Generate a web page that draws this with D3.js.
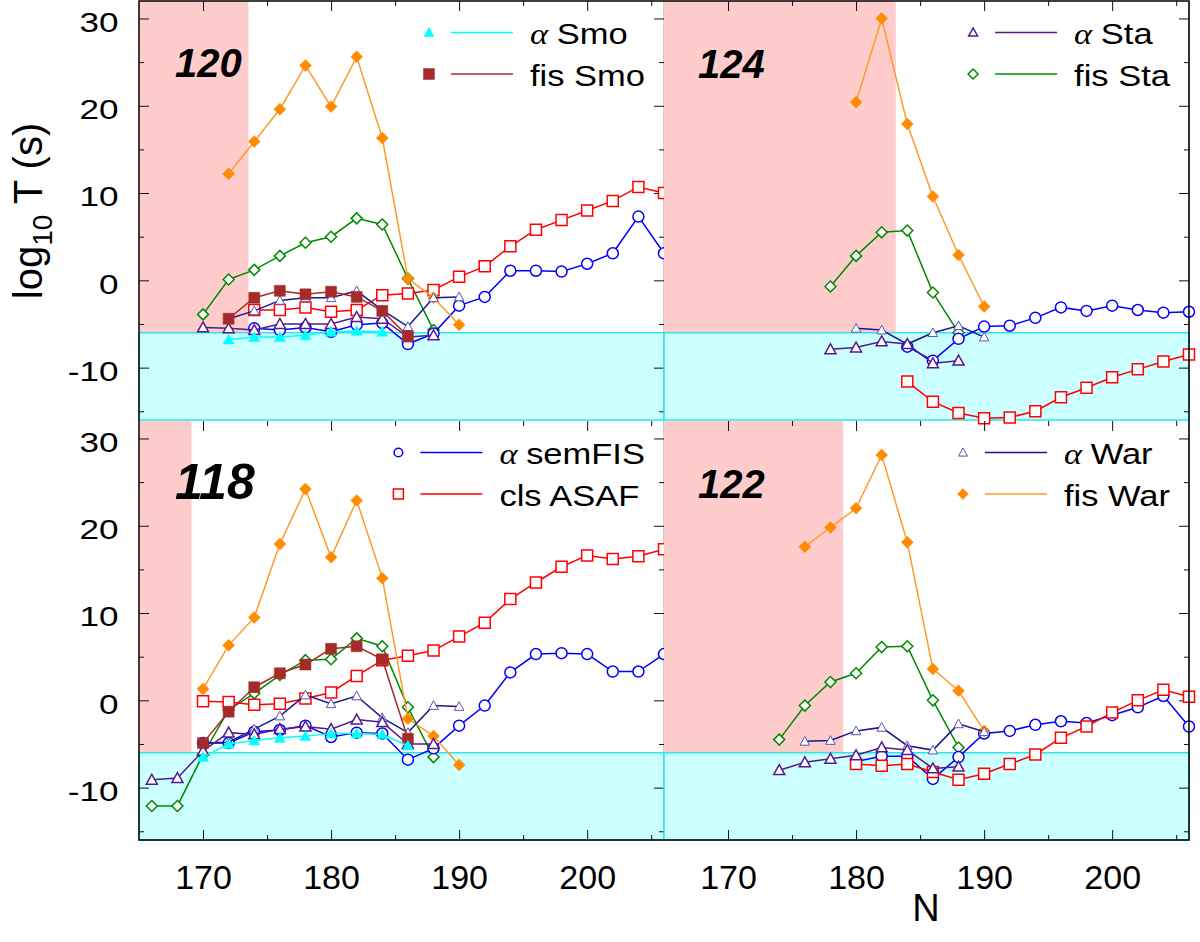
<!DOCTYPE html>
<html>
<head>
<meta charset="utf-8">
<script src="https://cdn.jsdelivr.net/npm/d3@7"></script>
<style>
body{margin:0;background:#fff}
svg{display:block;font-family:"Liberation Sans",Arial,sans-serif}
</style>
</head>
<body>
<script>
// ---- data: [N, log10 T] ----
// Z = 120 (top left)
var aSmo120 = [[172,-6.8],[174,-6.5],[176,-6.5],[178,-6.3],[180,-5.9],[182,-5.8],[184,-5.9]];
var fSmo120 = [[172,-4.4],[174,-2.0],[176,-1.2],[178,-1.6],[180,-1.3],[182,-1.9],[184,-3.5],[186,-6.4]];
var aSta120 = [[170,-5.4],[172,-5.5],[174,-5.7],[176,-5.0],[178,-5.0],[180,-5.0],[182,-4.2],[184,-4.4],[186,-6.5],[188,-6.3]];
var fSta120 = [[170,-3.9],[172,0.1],[174,1.2],[176,2.8],[178,4.3],[180,5.0],[182,7.1],[184,6.4],[186,0.2],[188,-5.7]];
var aSem120 = [[174,-5.5],[176,-5.7],[178,-5.4],[180,-5.9],[182,-5.1],[184,-4.9],[186,-7.3],[188,-6.1],[190,-2.9],[192,-1.9],[194,1.1],[196,1.1],[198,1.0],[200,1.9],[202,3.1],[204,7.3],[206,3.1]];
var cls120  = [[174,-3.4],[176,-3.4],[178,-3.1],[180,-3.6],[182,-3.4],[184,-1.7],[186,-1.5],[188,-1.1],[190,0.4],[192,1.6],[194,3.9],[196,5.8],[198,6.9],[200,8.0],[202,9.1],[204,10.7],[206,10.0]];
var aWar120 = [[172,-4.4],[174,-3.5],[176,-2.3],[178,-2.0],[180,-2.0],[182,-1.2],[184,-3.4],[186,-5.3],[188,-2.0],[190,-1.9]];
var fWar120 = [[172,12.2],[174,15.9],[176,19.6],[178,24.6],[180,19.9],[182,25.6],[184,16.3],[186,0.2],[188,-2.0],[190,-5.1]];

// Z = 124 (top right)
var aSta124 = [[178,-7.9],[180,-7.7],[182,-7.0],[184,-7.3],[186,-9.5],[188,-9.2]];
var fSta124 = [[178,-0.7],[180,2.8],[182,5.5],[184,5.7],[186,-1.4],[188,-6.0]];
var aSem124 = [[184,-7.6],[186,-9.2],[188,-6.7],[190,-5.3],[192,-5.2],[194,-4.3],[196,-3.1],[198,-3.5],[200,-2.9],[202,-3.4],[204,-3.7],[206,-3.6]];
var cls124  = [[184,-11.6],[186,-13.9],[188,-15.2],[190,-15.8],[192,-15.7],[194,-15.0],[196,-13.4],[198,-12.3],[200,-11.1],[202,-10.2],[204,-9.3],[206,-8.5]];
var aWar124 = [[180,-5.5],[182,-5.7],[184,-7.3],[186,-6.0],[188,-5.2],[190,-6.5]];
var fWar124 = [[180,20.4],[182,30.0],[184,17.9],[186,9.6],[188,2.9],[190,-3.0]];

// Z = 118 (bottom left)
var aSmo118 = [[170,-6.5],[172,-5.0],[174,-4.6],[176,-4.3],[178,-4.1],[180,-3.8],[182,-3.8],[184,-3.9],[186,-5.2]];
var fSmo118 = [[170,-4.9],[172,-1.3],[174,1.5],[176,3.1],[178,4.1],[180,5.9],[182,6.2],[184,4.7],[186,-4.4]];
var aSta118 = [[166,-9.1],[168,-8.9],[170,-5.8],[172,-3.7],[174,-3.9],[176,-3.3],[178,-3.0],[180,-3.3],[182,-2.2],[184,-2.5],[186,-5.0],[188,-5.0]];
var fSta118 = [[166,-12.1],[168,-12.1],[170,-6.2],[172,-1.1],[174,0.8],[176,2.9],[178,4.6],[180,4.7],[182,7.1],[184,6.2],[186,-0.8],[188,-6.5]];
var aSem118 = [[170,-4.9],[172,-4.9],[174,-3.6],[176,-3.4],[178,-2.9],[180,-4.2],[182,-3.7],[184,-3.8],[186,-6.8],[188,-5.5],[190,-2.9],[192,-0.6],[194,3.2],[196,5.3],[198,5.4],[200,5.3],[202,3.3],[204,3.3],[206,5.3]];
var cls118  = [[170,-0.1],[172,-0.2],[174,-0.5],[176,-0.4],[178,0.2],[180,0.9],[182,2.8],[184,4.6],[186,5.1],[188,5.7],[190,7.3],[192,8.9],[194,11.6],[196,13.5],[198,15.3],[200,16.6],[202,16.2],[204,16.5],[206,17.3]];
var aWar118 = [[170,-4.9],[172,-4.8],[174,-3.3],[176,-1.8],[178,0.6],[180,-0.4],[182,0.5],[184,-2.0],[186,-3.7],[188,-0.6],[190,-0.7]];
var fWar118 = [[170,1.3],[172,6.3],[174,9.5],[176,17.9],[178,24.2],[180,16.4],[182,22.9],[184,14.0],[186,-2.1],[188,-4.1],[190,-7.4]];

// Z = 122 (bottom right)
var aSta122 = [[174,-8.0],[176,-7.1],[178,-6.7],[180,-6.3],[182,-5.4],[184,-5.7],[186,-7.8],[188,-7.6]];
var fSta122 = [[174,-4.5],[176,-0.6],[178,2.1],[180,3.1],[182,6.1],[184,6.2],[186,0.0],[188,-5.4]];
var aSem122 = [[180,-7.0],[182,-6.4],[184,-6.4],[186,-9.0],[188,-6.5],[190,-3.8],[192,-3.5],[194,-2.8],[196,-2.4],[198,-2.6],[200,-1.7],[202,-0.8],[204,0.5],[206,-3.0]];
var cls122  = [[180,-7.3],[182,-7.5],[184,-7.3],[186,-8.2],[188,-9.1],[190,-8.4],[192,-7.3],[194,-6.2],[196,-4.3],[198,-3.0],[200,-1.4],[202,0.0],[204,1.2],[206,0.4]];
var aWar122 = [[176,-4.7],[178,-4.6],[180,-3.5],[182,-3.1],[184,-5.2],[186,-5.7],[188,-2.7],[190,-3.6]];
var fWar122 = [[176,17.6],[178,19.8],[180,22.0],[182,28.1],[184,18.1],[186,3.6],[188,1.1],[190,-3.5]];

// end of shaded (pink) N range per panel, cyan band below log T = -6
var pinkEnd = {120:173.55, 124:183.1, 118:169.1, 122:179.0};
var bandTop = -6;

var xMajor = [170,180,190,200], xMinor = [175,185,195,205];
var yMajor = [-10,0,10,20,30], yMinor = [-15,-5,5,15,25];

// ---- styles ----
var styles = {
  aSmo:  {color:'#00ffff', mcol:'#00ffff', shape:'tri', fill:true,  r:5.5, lr:5,   lw:1.5, name:['α','Smo']},
  fSmo:  {color:'#a52a2a', mcol:'#a52a2a', shape:'sq',  fill:true,  r:5.5, lr:5.5, lw:1.5, name:['','fis Smo']},
  aSta:  {color:'#551a8b', mcol:'#551a8b', shape:'tri', fill:false, r:5.5, lr:4.5, lw:1.5, name:['α','Sta']},
  fSta:  {color:'#008a00', mcol:'#008a00', shape:'dia', fill:false, r:5.5, lr:5,   lw:1.5, name:['','fis Sta']},
  aSem:  {color:'#0000ff', mcol:'#0000ff', shape:'circ',fill:false, r:5.5, lr:4.3, lw:1.5, name:['α','semFIS']},
  cls:   {color:'#ff0000', mcol:'#ff0000', shape:'sq',  fill:false, r:5.5, lr:5,   lw:1.5, name:['','cls ASAF']},
  aWar:  {color:'#18188a', mcol:'#5555b8', shape:'tri', fill:false, r:4.8, lr:4.5, lw:1.5, mw:1, name:['α','War']},
  fWar:  {color:'#ff9a2a', mcol:'#ff8c00', shape:'dia', fill:true,  r:6,   lr:5.5, lw:1.5, name:['','fis War']}
};
var drawOrder = ['fSta','aSem','cls','fWar','aWar','aSta','fSmo','aSmo'];

var panels = [
  {z:120, col:0, row:0, fs:40, lx:175, ly:77,  legend:['aSmo','fSmo'],
   series:{aSmo:aSmo120,fSmo:fSmo120,aSta:aSta120,fSta:fSta120,aSem:aSem120,cls:cls120,aWar:aWar120,fWar:fWar120}},
  {z:124, col:1, row:0, fs:40, lx:698, ly:78,  legend:['aSta','fSta'],
   series:{aSta:aSta124,fSta:fSta124,aSem:aSem124,cls:cls124,aWar:aWar124,fWar:fWar124}},
  {z:118, col:0, row:1, fs:50, lx:175, ly:499, legend:['aSem','cls'],
   series:{aSmo:aSmo118,fSmo:fSmo118,aSta:aSta118,fSta:fSta118,aSem:aSem118,cls:cls118,aWar:aWar118,fWar:fWar118}},
  {z:122, col:1, row:1, fs:40, lx:698, ly:498, legend:['aWar','fWar'],
   series:{aSta:aSta122,fSta:fSta122,aSem:aSem122,cls:cls122,aWar:aWar122,fWar:fWar122}}
];

var cols = [[139,664],[664,1189]];
var rows = [[1,420],[421,840]];

var svg = d3.select('body').append('svg')
    .attr('width', 1200)
    .attr('height', 942);

function shape(s, r){
  if (s == 'tri') return 'M0,' + (-r) + 'L' + r + ',' + (r*0.8) + 'L' + (-r) + ',' + (r*0.8) + 'Z';
  if (s == 'sq') return 'M' + (-r) + ',' + (-r) + 'h' + (2*r) + 'v' + (2*r) + 'h' + (-2*r) + 'Z';
  if (s == 'dia') return 'M0,' + (-r) + 'L' + r + ',0L0,' + r + 'L' + (-r) + ',0Z';
  return 'M' + r + ',0A' + r + ',' + r + ' 0 1,1 ' + (-r) + ',0A' + r + ',' + r + ' 0 1,1 ' + r + ',0Z';
}

function drawMarker(sel, st, r){
  sel.attr('d', shape(st.shape, r))
     .attr('fill', st.fill ? st.mcol : '#fff')
     .attr('stroke', st.mcol)
     .attr('stroke-width', st.fill ? 0.5 : (st.mw || 1.5));
}

function ticks(g, axis, tx, ty){
  var a = g.append('g').attr('transform', 'translate(' + tx + ',' + ty + ')').call(axis);
  a.select('.domain').remove();
  a.selectAll('line').attr('stroke', '#111').attr('stroke-width', 1);
  return a;
}

// plain hyphen for negatives, like the original
var plain = function(d){ return String(d); };

panels.forEach(function(p){
  var x = d3.scaleLinear().domain([165,206]).range(cols[p.col]);
  var y = d3.scaleLinear().domain([-16,32]).range([rows[p.row][1], rows[p.row][0]]);
  var g = svg.append('g');

  // shaded regions
  g.append('rect')
    .attr('x', x(165)).attr('y', y(32))
    .attr('width', x(pinkEnd[p.z]) - x(165)).attr('height', y(bandTop) - y(32))
    .attr('fill', '#ffcccc');
  g.append('line')
    .attr('x1', x(206)).attr('x2', x(206)).attr('y1', y(32)).attr('y2', y(-16))
    .attr('stroke', '#999').attr('stroke-width', 1);
  g.append('rect')
    .attr('x', x(165)).attr('y', y(bandTop))
    .attr('width', x(206) - x(165)).attr('height', y(-16) - y(bandTop))
    .attr('fill', '#ccffff').attr('stroke', '#30e4e4').attr('stroke-width', 1.5);

  // inward ticks
  ticks(g, d3.axisTop(x).tickValues(xMajor).tickSize(-10).tickSizeOuter(0).tickFormat(''), 0, y(32));
  ticks(g, d3.axisTop(x).tickValues(xMinor).tickSize(-5).tickSizeOuter(0).tickFormat(''), 0, y(32));
  ticks(g, d3.axisRight(y).tickValues(yMajor).tickSize(-10).tickSizeOuter(0).tickFormat(''), x(206), 0);
  ticks(g, d3.axisRight(y).tickValues(yMinor).tickSize(-5).tickSizeOuter(0).tickFormat(''), x(206), 0);

  if (p.col == 0) {
    var ya = ticks(g, d3.axisLeft(y).tickValues(yMajor).tickFormat(plain).tickSize(-10).tickSizeOuter(0).tickPadding(20.5), x(165), 0);
    ya.selectAll('text')
      .attr('font-size', 27).attr('fill', '#000')
      .attr('font-family', '"Liberation Sans",Arial,sans-serif')
      .attr('dy', '0.47em')
      .attr('transform', function(){ return 'translate(' + d3.select(this).attr('x') + ',0) scale(1.3,1)'; })
      .attr('x', 0);
    ticks(g, d3.axisLeft(y).tickValues(yMinor).tickSize(-5).tickSizeOuter(0).tickFormat(''), x(165), 0);
  }
  if (p.row == 1) {
    var xa = ticks(g, d3.axisBottom(x).tickValues(xMajor).tickFormat(plain).tickSize(-10).tickSizeOuter(0).tickPadding(25), 0, y(-16));
    xa.selectAll('text')
      .attr('font-size', 34).attr('fill', '#000')
      .attr('font-family', '"Liberation Sans",Arial,sans-serif');
    ticks(g, d3.axisBottom(x).tickValues(xMinor).tickSize(-5).tickSizeOuter(0).tickFormat(''), 0, y(-16));
  }

  // series
  var line = d3.line().x(function(d){ return x(d[0]); }).y(function(d){ return y(d[1]); });
  drawOrder.forEach(function(k){
    var data = p.series[k];
    if (!data) return;
    var st = styles[k];
    g.append('path')
      .attr('d', line(data))
      .attr('fill', 'none')
      .attr('stroke', st.color)
      .attr('stroke-width', st.lw);
    g.selectAll(null)
      .data(data)
      .enter()
      .append('path')
      .attr('transform', function(d){ return 'translate(' + x(d[0]) + ',' + y(d[1]) + ')'; })
      .call(drawMarker, st, st.r);
  });

  // panel label
  g.append('text')
    .attr('x', p.lx).attr('y', p.ly)
    .attr('font-size', p.fs)
    .attr('font-weight', 'bold')
    .attr('font-style', 'italic')
    .text(p.z);

  // legend: text left-aligned in a block ending near the right edge
  var lg = g.append('g');
  var texts = [], maxW = 0;
  p.legend.forEach(function(k, i){
    var t = lg.append('text').attr('font-size', 30);
    var nm = styles[k].name;
    if (nm[0]) {
      t.append('tspan').attr('font-family', '"Liberation Serif","DejaVu Serif",serif')
        .attr('font-style', 'italic').text(nm[0] + ' ');
    }
    t.append('tspan').text(nm[1]);
    var w = t.node().getComputedTextLength() * 1.15;
    if (w > maxW) maxW = w;
    texts.push(t);
  });
  var tx = x(206) - 19 - maxW;
  var ys = [y(32) + 31.5, y(32) + 73];
  p.legend.forEach(function(k, i){
    var st = styles[k];
    texts[i].attr('transform', 'translate(' + tx + ',' + (ys[i] + 11.5) + ') scale(1.15,1)');
    lg.append('line')
      .attr('x1', tx - 79).attr('x2', tx - 17)
      .attr('y1', ys[i]).attr('y2', ys[i])
      .attr('stroke', st.color).attr('stroke-width', 1.5);
    lg.append('path')
      .attr('transform', 'translate(' + (tx - 101) + ',' + ys[i] + ')')
      .call(drawMarker, st, st.lr);
  });
});

// outer frame
var fr = svg.append('g').attr('stroke', '#000').attr('stroke-width', 1.5).attr('fill', 'none');
fr.append('path').attr('d', 'M139,1V840H1189V1Z');

// axis titles
svg.append('text')
  .attr('transform', 'translate(42,211) rotate(-90)')
  .attr('text-anchor', 'middle')
  .attr('font-size', 40)
  .call(function(t){
    t.append('tspan').text('log');
    t.append('tspan').attr('font-size', 28).attr('dy', 10).text('10');
    t.append('tspan').attr('dy', -10).text(' T (s)');
  });

svg.append('text')
  .attr('x', 926).attr('y', 921)
  .attr('text-anchor', 'middle')
  .attr('font-size', 38)
  .text('N');
</script>
</body>
</html>
